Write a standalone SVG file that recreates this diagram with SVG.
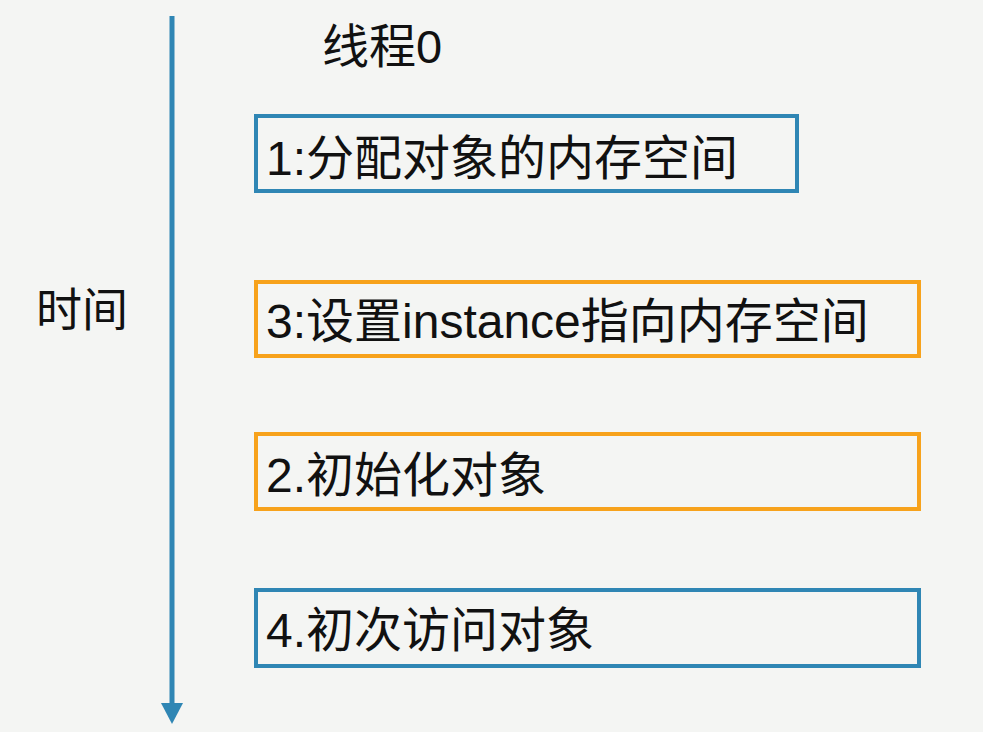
<svg xmlns="http://www.w3.org/2000/svg" width="983" height="732" viewBox="0 0 983 732">
<style>
text{font-family:"Liberation Sans","Noto Sans CJK SC",sans-serif;fill:#111;}
.lbl{font-size:48px;}
.box{fill:none;stroke-width:4;}
.blue{stroke:#2f86b4;}
.orange{stroke:#f7a21b;}
</style>
<rect width="983" height="732" fill="#f4f5f3"/>
<g id="connectors">
<line x1="172" y1="16" x2="172" y2="703" stroke="#2f86b4" stroke-width="5"/>
<path d="M161,703 L183,703 L172,724 Z" fill="#2f86b4"/>
</g>
<g id="title"><text x="322" y="63" style="font-size:47px">线程0</text></g>
<g id="axis-label"><text x="36" y="326" style="font-size:46px">时间</text></g>
<g id="step1"><rect class="box blue" x="256" y="116" width="541" height="75"/><text class="lbl" x="266" y="175">1:分配对象的内存空间</text></g>
<g id="step3"><rect class="box orange" x="256" y="282" width="663" height="74"/><text class="lbl" x="266" y="338">3:设置instance指向内存空间</text></g>
<g id="step2"><rect class="box orange" x="256" y="434" width="663" height="75"/><text class="lbl" x="266" y="492">2.初始化对象</text></g>
<g id="step4"><rect class="box blue" x="256" y="590" width="663" height="76"/><text class="lbl" x="266" y="647">4.初次访问对象</text></g>
</svg>
